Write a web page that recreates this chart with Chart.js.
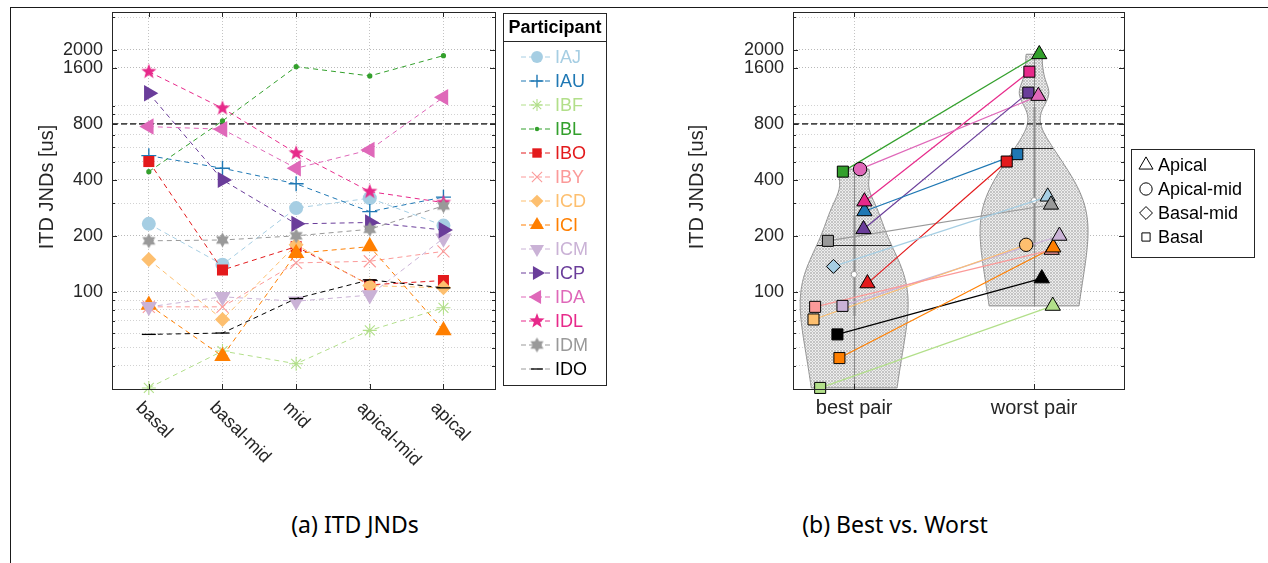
<!DOCTYPE html>
<html>
<head>
<meta charset="utf-8">
<script src="https://cdn.jsdelivr.net/npm/chart.js@4.4.0/dist/chart.umd.min.js"></script>
<style>
  html, body { margin: 0; padding: 0; background: #fff; }
  #page { position: relative; width: 1268px; height: 563px; overflow: hidden; background: #fff; }
  #frame { position: absolute; left: 10px; top: 7px; right: -2px; bottom: -2px; border-top: 1px solid #1a1a1a; border-left: 1px solid #1a1a1a; }
  .panel { position: absolute; top: 0; height: 470px; }
  #left { left: 0; width: 640px; }
  #right { left: 640px; width: 628px; }
  .caption { position: absolute; top: 513px; line-height: 23px; font-family: "Noto Sans", sans-serif; font-size: 23px; color: #000; transform: translateX(-50%); white-space: nowrap; }
</style>
</head>
<body>
<div id="page">
  <div id="frame"></div>
  <div class="panel" id="left"><canvas id="jndChart"></canvas></div>
  <div class="panel" id="right"><canvas id="pairChart"></canvas></div>
  <div class="caption" style="left:355px">(a) ITD JNDs</div>
  <div class="caption" style="left:895px">(b) Best vs. Worst</div>
</div>
<script>
// ---- data ----
const participants = ['IAJ', 'IAU', 'IBF', 'IBL', 'IBO', 'IBY', 'ICD', 'ICI', 'ICM', 'ICP', 'IDA', 'IDL', 'IDM', 'IDO'];
const categories = ['basal', 'basal-mid', 'mid', 'apical-mid', 'apical'];

// ITD JNDs (us) per electrode region: basal, basal-mid, mid, apical-mid, apical
const jndIAJ = [232, 140, 282, 319, 227];
const jndIAU = [540, 462, 381, 270, 323];
const jndIBF = [30.4, 48, 41, 62, 82];
const jndIBL = [443, 830, 1626, 1449, 1864];
const jndIBO = [502, 131, 175, 109, 115];
const jndIBY = [83, 83, 143, 146, 165];
const jndICD = [149, 71, 179, 108, 105];
const jndICI = [85, 45, 161, 175, 62];
const jndICM = [83, 94, 89, 96, 194];
const jndICP = [1170, 400, 232, 236, 215];
const jndIDA = [774, 749, 462, 580, 1113];
const jndIDL = [1528, 972, 557, 346, 302];
const jndIDM = [188, 190, 200, 217, 290];
const jndIDO = [59, 60, 92, 116, 105];
const jndRows = [jndIAJ, jndIAU, jndIBF, jndIBL, jndIBO, jndIBY, jndICD, jndICI, jndICM, jndICP, jndIDA, jndIDL, jndIDM, jndIDO];

// best / worst pair per participant (same order as participants)
const pairLabels = ['best pair', 'worst pair'];
const bestJnd = [137, 271, 30.4, 443, 111, 83, 71, 44, 84, 217, 457, 306, 188, 59];
const worstJnd = [325, 550, 84, 1896, 502, 168, 179, 173, 200, 1179, 1131, 1528, 294, 118];
const bestRegion = ['Basal-mid', 'Apical', 'Basal', 'Basal', 'Apical', 'Basal', 'Basal', 'Basal', 'Basal', 'Apical', 'Apical-mid', 'Apical', 'Basal', 'Basal'];
const worstRegion = ['Apical', 'Basal', 'Apical', 'Apical', 'Basal', 'Apical', 'Apical-mid', 'Apical', 'Apical', 'Basal', 'Apical', 'Basal', 'Apical', 'Apical'];
const bestJitter = [-0.115, 0.057, -0.189, -0.063, 0.074, -0.217, -0.226, -0.082, -0.065, 0.052, 0.033, 0.057, -0.146, -0.093];
const worstJitter = [0.076, -0.093, 0.104, 0.029, -0.152, 0.098, -0.044, 0.107, 0.141, -0.032, 0.024, -0.026, 0.094, 0.043];
const regions = ['Apical', 'Apical-mid', 'Basal-mid', 'Basal'];

const yTickLabels = [100, 200, 400, 800, 1600, 2000];
const yGridValues = [40, 50, 60, 70, 80, 90, 100, 200, 300, 400, 500, 600, 700, 800, 900, 1000, 1600, 2000, 3000];
const threshold = 800;

// ---- styles ----
const colors = ['#a6cee3', '#1f78b4', '#b2df8a', '#33a02c', '#e31a1c', '#fb9a99', '#fdbf6f', '#ff7f00', '#cab2d6', '#6a3d9a', '#df68b9', '#e7298a', '#999999', '#000000'];
const FONT = '"Liberation Sans", Arial, sans-serif';
const INK = '#262626';

function starCanvas(points, outer, inner, color) {
  const s = Math.ceil(outer * 2 + 2);
  const c = document.createElement('canvas');
  c.width = s; c.height = s;
  const g = c.getContext('2d');
  g.fillStyle = color;
  g.beginPath();
  for (let i = 0; i < points * 2; i++) {
    const r = i % 2 ? inner : outer;
    const a = -Math.PI / 2 + i * Math.PI / points;
    const px = s / 2 + r * Math.cos(a), py = s / 2 + r * Math.sin(a);
    if (i === 0) g.moveTo(px, py); else g.lineTo(px, py);
  }
  g.closePath();
  g.fill();
  return c;
}

const markers = [
  { style: 'circle', r: 7, bw: 0 },
  { style: 'cross', r: 7.5, bw: 1.4 },
  { style: 'star', r: 7, bw: 1.1 },
  { style: 'circle', r: 2.6, bw: 0 },
  { style: 'rect', r: 7.8, bw: 0 },
  { style: 'crossRot', r: 8.5, bw: 1.1 },
  { style: 'rectRot', r: 7.5, bw: 0 },
  { style: 'triangle', r: 9.5, bw: 0 },
  { style: 'triangle', r: 9.5, bw: 0, rot: 180 },
  { style: 'triangle', r: 9.5, bw: 0, rot: 90 },
  { style: 'triangle', r: 9.5, bw: 0, rot: 270 },
  { style: starCanvas(5, 8, 3.3, colors[11]), r: 8, bw: 0 },
  { style: starCanvas(6, 7.5, 4.3, colors[12]), r: 8, bw: 0 },
  { style: 'line', r: 7, bw: 1.3 },
];

const regionStyle = {
  'Apical': { style: 'triangle', r: 8.8 },
  'Apical-mid': { style: 'circle', r: 6.7 },
  'Basal-mid': { style: 'rectRot', r: 7 },
  'Basal': { style: 'rect', r: 7.8 },
};

Chart.defaults.font.family = FONT;
Chart.defaults.color = INK;

// ---- shared axis helpers ----
function logAxis() {
  return {
    type: 'logarithmic',
    min: 30,
    max: 3200,
    afterBuildTicks: s => { s.ticks = yGridValues.map(v => ({ value: v })); },
    ticks: {
      autoSkip: false,
      padding: 9,
      color: INK,
      font: { size: 18 },
      callback: v => (yTickLabels.includes(v) ? String(v) : ''),
    },
    grid: {
      drawTicks: false,
      color: c => (c.tick && yTickLabels.includes(c.tick.value) ? '#b9b9b9' : '#d2d2d2'),
      lineWidth: 1,
    },
    border: { display: false, dash: [1, 2] },
  };
}

function drawFrame(chart, xTicks) {
  const { ctx, chartArea: a, scales } = chart;
  ctx.save();
  ctx.strokeStyle = INK;
  ctx.lineWidth = 1;
  ctx.strokeRect(Math.round(a.left) + 0.5, Math.round(a.top) + 0.5, Math.round(a.right - a.left), Math.round(a.bottom - a.top));
  ctx.beginPath();
  yGridValues.forEach(v => {
    const y = Math.round(scales.y.getPixelForValue(v)) + 0.5;
    const len = yTickLabels.includes(v) ? 5 : 3;
    ctx.moveTo(a.left, y); ctx.lineTo(a.left + len, y);
    ctx.moveTo(a.right, y); ctx.lineTo(a.right - len, y);
  });
  xTicks.forEach(v => {
    const x = Math.round(scales.x.getPixelForValue(v)) + 0.5;
    ctx.moveTo(x, a.bottom); ctx.lineTo(x, a.bottom - 5);
    ctx.moveTo(x, a.top); ctx.lineTo(x, a.top + 5);
  });
  ctx.stroke();
  ctx.restore();
}

function drawThreshold(chart) {
  const { ctx, chartArea: a, scales } = chart;
  const y = scales.y.getPixelForValue(threshold);
  ctx.save();
  ctx.strokeStyle = '#4a4a4a';
  ctx.lineWidth = 1.6;
  ctx.setLineDash([6, 3]);
  ctx.beginPath();
  ctx.moveTo(a.left, y); ctx.lineTo(a.right, y);
  ctx.stroke();
  ctx.restore();
}

function drawYTitle(ctx, x, y) {
  ctx.save();
  ctx.translate(x, y);
  ctx.rotate(-Math.PI / 2);
  ctx.font = '20px ' + FONT;
  ctx.fillStyle = INK;
  ctx.textAlign = 'center';
  ctx.textBaseline = 'middle';
  ctx.fillText('ITD JNDs [us]', 0, 0);
  ctx.restore();
}

// ---- (a) ITD JNDs per region ----
const leftDecor = {
  id: 'leftDecor',
  beforeDatasetsDraw(chart) { drawThreshold(chart); },
  afterDraw(chart) {
    const { ctx, scales } = chart;
    drawFrame(chart, categories.map((c, k) => k + 1));
    drawYTitle(ctx, 47, 187);

    // rotated category labels
    ctx.save();
    ctx.font = '18px ' + FONT;
    ctx.fillStyle = INK;
    ctx.textAlign = 'left';
    ctx.textBaseline = 'middle';
    categories.forEach((c, k) => {
      const x = scales.x.getPixelForValue(k + 1);
      ctx.save();
      ctx.translate(x - 10, 405);
      ctx.rotate(Math.PI / 4);
      ctx.fillText(c, 0, 0);
      ctx.restore();
    });
    ctx.restore();

    // participant legend
    const bx = 503.5, by = 13.5, bw = 103, bh = 372;
    ctx.save();
    ctx.fillStyle = '#fff';
    ctx.fillRect(bx, by, bw, bh);
    ctx.strokeStyle = INK;
    ctx.lineWidth = 1;
    ctx.strokeRect(bx, by, bw, bh);
    ctx.beginPath();
    ctx.moveTo(bx, 41.5); ctx.lineTo(bx + bw, 41.5);
    ctx.stroke();
    ctx.font = 'bold 18px ' + FONT;
    ctx.fillStyle = '#000';
    ctx.textAlign = 'center';
    ctx.textBaseline = 'middle';
    ctx.fillText('Participant', bx + bw / 2, 28);
    ctx.font = '18px ' + FONT;
    ctx.textAlign = 'left';
    participants.forEach((p, i) => {
      const y = 57 + 24 * i;
      const col = colors[i];
      ctx.strokeStyle = i === 13 ? '#9a9a9a' : col;
      ctx.lineWidth = 1;
      ctx.setLineDash([5, 3]);
      ctx.beginPath();
      ctx.moveTo(521, y); ctx.lineTo(553, y);
      ctx.stroke();
      ctx.setLineDash([]);
      const m = markers[i];
      ctx.fillStyle = col;
      ctx.strokeStyle = col;
      ctx.lineWidth = m.bw;
      Chart.helpers.drawPoint(ctx, { pointStyle: m.style, radius: m.r * 0.85, rotation: m.rot || 0, borderWidth: m.bw }, 537, y);
      ctx.fillStyle = col;
      ctx.fillText(p, 555, y + 1);
    });
    ctx.restore();
  },
};

const leftDatasets = participants.map((p, i) => ({
  label: p,
  data: jndRows[i].map((v, k) => ({ x: k + 1, y: v })),
  borderColor: colors[i],
  backgroundColor: colors[i],
  borderWidth: 1,
  borderDash: [5, 4],
  pointStyle: markers[i].style,
  pointRadius: markers[i].r,
  pointRotation: markers[i].rot || 0,
  pointBorderWidth: markers[i].bw,
  pointBorderColor: colors[i],
  pointBackgroundColor: colors[i],
  order: participants.length - i,
  clip: false,
}));

new Chart(document.getElementById('jndChart'), {
  type: 'line',
  data: { datasets: leftDatasets },
  options: {
    responsive: true,
    maintainAspectRatio: false,
    animation: false,
    layout: { padding: { top: 12, right: 145, left: 0, bottom: 0 } },
    plugins: { legend: { display: false }, tooltip: { enabled: false } },
    scales: {
      x: {
        type: 'linear',
        min: 0.5,
        max: 5.7,
        afterBuildTicks: s => { s.ticks = categories.map((c, k) => ({ value: k + 1 })); },
        afterFit: s => { s.height = 81; s.paddingLeft = 0; s.paddingRight = 0; },
        ticks: { display: false },
        grid: { drawTicks: false, color: '#c4c4c4' },
        border: { display: false, dash: [1, 2] },
      },
      y: Object.assign(logAxis(), { afterFit: s => { s.width = 112; s.paddingTop = 0; s.paddingBottom = 0; } }),
    },
  },
  plugins: [leftDecor],
});

// ---- (b) best vs worst pair ----
function quantile(sorted, q) {
  const pos = (sorted.length - 1) * q;
  const lo = Math.floor(pos), hi = Math.ceil(pos);
  return sorted[lo] + (sorted[hi] - sorted[lo]) * (pos - lo);
}

// kernel density (normal kernel, robust rule-of-thumb bandwidth), truncated to the data range
function violinStats(values) {
  const n = values.length;
  const sorted = [...values].sort((a, b) => a - b);
  const med = quantile(sorted, 0.5);
  const dev = values.map(v => Math.abs(v - med)).sort((a, b) => a - b);
  const sig = quantile(dev, 0.5) / 0.6745;
  const bw = sig * Math.pow(4 / (3 * n), 0.2);
  const lo = sorted[0], hi = sorted[n - 1];
  const dens = v => values.reduce((s, x) => { const z = (v - x) / bw; return s + Math.exp(-0.5 * z * z); }, 0);
  const pts = [];
  const steps = 160;
  for (let k = 0; k <= steps; k++) {
    const v = lo * Math.pow(hi / lo, k / steps);
    pts.push({ v, d: dens(v) });
  }
  const dMax = Math.max(...pts.map(p => p.d));
  const mean = values.reduce((s, v) => s + v, 0) / n;
  return {
    pts: pts.map(p => ({ v: p.v, w: p.d / dMax })),
    mean, meanW: dens(mean) / dMax, med,
    q1: quantile(sorted, 0.25), q3: quantile(sorted, 0.75), lo, hi,
  };
}

function hatch(ctx) {
  const c = document.createElement('canvas');
  c.width = 3; c.height = 3;
  const g = c.getContext('2d');
  g.fillStyle = '#ededed';
  g.fillRect(0, 0, 3, 3);
  g.fillStyle = '#c4c4c4';
  g.fillRect(0, 0, 1, 1);
  g.fillRect(1, 1, 1, 1);
  g.fillRect(2, 2, 1, 1);
  g.fillRect(2, 0, 1, 1);
  g.fillRect(0, 2, 1, 1);
  return ctx.createPattern(c, 'repeat');
}

const violinWidth = 0.3;

const pairDecor = {
  id: 'pairDecor',
  beforeDatasetsDraw(chart) {
    const { ctx, scales } = chart;
    const fill = hatch(ctx);
    [bestJnd, worstJnd].forEach((vals, g) => {
      const pos = g + 1;
      const st = violinStats(vals);
      const X = dx => scales.x.getPixelForValue(pos + dx);
      const Y = v => scales.y.getPixelForValue(v);
      ctx.save();
      ctx.beginPath();
      st.pts.forEach((p, k) => {
        const x = X(p.w * violinWidth), y = Y(p.v);
        if (k === 0) ctx.moveTo(x, y); else ctx.lineTo(x, y);
      });
      for (let k = st.pts.length - 1; k >= 0; k--) {
        const p = st.pts[k];
        ctx.lineTo(X(-p.w * violinWidth), Y(p.v));
      }
      ctx.closePath();
      ctx.fillStyle = fill;
      ctx.fill();
      ctx.strokeStyle = '#8e8e8e';
      ctx.lineWidth = 1;
      ctx.stroke();

      // whisker and narrow box
      const cx = Math.round(X(0)) + 0.5;
      ctx.strokeStyle = '#8a8a8a';
      ctx.beginPath();
      ctx.moveTo(cx, Y(st.lo)); ctx.lineTo(cx, Y(st.hi));
      ctx.stroke();
      ctx.lineWidth = 2;
      ctx.beginPath();
      ctx.moveTo(cx, Y(st.q1)); ctx.lineTo(cx, Y(st.q3));
      ctx.stroke();

      // mean line
      const my = Math.round(Y(st.mean)) + 0.5;
      ctx.strokeStyle = '#2b2b2b';
      ctx.lineWidth = 1;
      ctx.beginPath();
      ctx.moveTo(X(-st.meanW * violinWidth), my); ctx.lineTo(X(st.meanW * violinWidth), my);
      ctx.stroke();

      // median dot
      ctx.fillStyle = '#fff';
      ctx.strokeStyle = '#9a9a9a';
      ctx.beginPath();
      ctx.arc(X(0), Y(st.med), 3, 0, Math.PI * 2);
      ctx.fill();
      ctx.stroke();
      ctx.restore();
    });
    drawThreshold(chart);
  },
  afterDraw(chart) {
    const { ctx } = chart;
    drawFrame(chart, [1, 2]);
    drawYTitle(ctx, 57, 187);

    // region legend
    const bx = 491.5, by = 149.5, bw = 123, bh = 108;
    ctx.save();
    ctx.fillStyle = '#fff';
    ctx.fillRect(bx, by, bw, bh);
    ctx.strokeStyle = INK;
    ctx.lineWidth = 1;
    ctx.strokeRect(bx, by, bw, bh);
    ctx.font = '18px ' + FONT;
    ctx.textAlign = 'left';
    ctx.textBaseline = 'middle';
    regions.forEach((r, i) => {
      const y = 165 + 24 * i;
      const st = regionStyle[r];
      ctx.fillStyle = '#fff';
      ctx.strokeStyle = '#000';
      ctx.lineWidth = 1;
      const rad = r === 'Basal' ? 5.8 : st.r * 0.92;
      Chart.helpers.drawPoint(ctx, { pointStyle: st.style, radius: rad, rotation: 0, borderWidth: 1 }, 506, y);
      ctx.fillStyle = '#000';
      ctx.fillText(r, 518, y + 1);
    });
    ctx.restore();
  },
};

const pairPoints = i => [
  { x: 1 + bestJitter[i], y: bestJnd[i] },
  { x: 2 + worstJitter[i], y: worstJnd[i] },
];

const pairLines = participants.map((p, i) => ({
  label: p + ' line',
  data: pairPoints(i),
  borderColor: colors[i],
  borderWidth: 1.2,
  pointRadius: 0,
  order: 100,
  clip: false,
}));

const pairMarks = participants.map((p, i) => ({
  label: p,
  data: pairPoints(i),
  showLine: false,
  pointStyle: [regionStyle[bestRegion[i]].style, regionStyle[worstRegion[i]].style],
  pointRadius: [regionStyle[bestRegion[i]].r, regionStyle[worstRegion[i]].r],
  pointBackgroundColor: colors[i],
  pointBorderColor: '#000',
  pointBorderWidth: 1,
  order: participants.length - i,
  clip: false,
}));

new Chart(document.getElementById('pairChart'), {
  type: 'line',
  data: { datasets: pairLines.concat(pairMarks) },
  options: {
    responsive: true,
    maintainAspectRatio: false,
    animation: false,
    layout: { padding: { top: 12, right: 144, left: 0, bottom: 0 } },
    plugins: { legend: { display: false }, tooltip: { enabled: false } },
    scales: {
      x: {
        type: 'linear',
        min: 0.66,
        max: 2.5,
        afterBuildTicks: s => { s.ticks = pairLabels.map((c, k) => ({ value: k + 1 })); },
        afterFit: s => { s.height = 81; s.paddingLeft = 0; s.paddingRight = 0; },
        ticks: {
          autoSkip: false,
          maxRotation: 0,
          padding: 7,
          color: INK,
          font: { size: 20 },
          callback: v => pairLabels[Math.round(v) - 1] || '',
        },
        grid: { drawTicks: false, color: '#c4c4c4' },
        border: { display: false, dash: [1, 2] },
      },
      y: Object.assign(logAxis(), { afterFit: s => { s.width = 153; s.paddingTop = 0; s.paddingBottom = 0; } }),
    },
  },
  plugins: [pairDecor],
});
</script>
</body>
</html>
